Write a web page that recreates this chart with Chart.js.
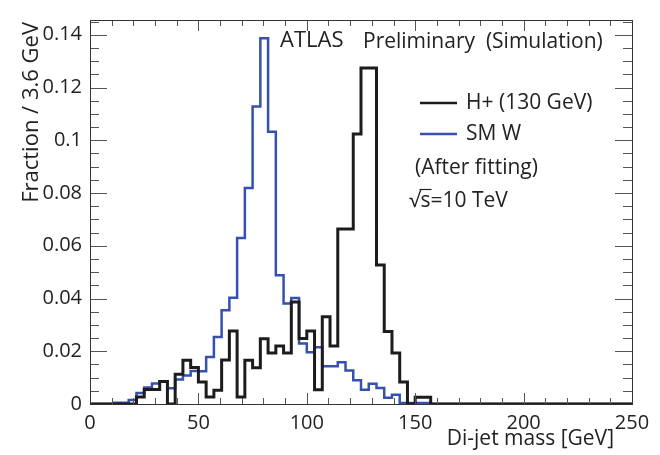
<!DOCTYPE html>
<html>
<head>
<meta charset="utf-8">
<title>Di-jet mass</title>
<script src="https://cdn.jsdelivr.net/npm/chart.js@4.4.0/dist/chart.umd.min.js"></script>
<style>
  body { margin: 0; background: #fff; }
  #chart { display: block; }
</style>
</head>
<body>
<canvas id="chart" width="660" height="455"></canvas>
<script>
// binning: 70 bins from 0 to 250 GeV (~3.6 GeV each)
const massMin = 0;
const massMax = 250;
const nBins = 70;

// fraction per bin
const hplusFraction = [
  0, 0, 0, 0, 0, 0, 0.0027, 0.0055, 0.0055, 0.0085,
  0, 0.0113, 0.0166, 0.0138, 0.0083, 0.0027, 0.0052, 0.0167, 0.0277, 0.0027,
  0.0166, 0.0137, 0.0247, 0.0193, 0.022, 0.0193, 0.0387, 0.0248, 0.0277, 0.0054,
  0.0331, 0.022, 0.0664, 0.0664, 0.1024, 0.1274, 0.1274, 0.0527, 0.0275, 0.0193,
  0.0083, 0, 0.0026, 0.0026, 0, 0, 0, 0, 0, 0,
  0, 0, 0, 0, 0, 0, 0, 0, 0, 0,
  0, 0, 0, 0, 0, 0, 0, 0, 0, 0
];
const smwFraction = [
  0, 0, 0, 0.0005, 0.0005, 0.0015, 0.0042, 0.0063, 0.0078, 0.0086,
  0.006, 0.0093, 0.0108, 0.0125, 0.0124, 0.0178, 0.0254, 0.0355, 0.0403, 0.0629,
  0.0819, 0.1128, 0.1387, 0.1032, 0.0488, 0.0381, 0.0402, 0.0229, 0.0196, 0.0215,
  0.0143, 0.0143, 0.0158, 0.0127, 0.009, 0.0054, 0.0077, 0.0061, 0.0024, 0.0035,
  0.0004, 0.0004, 0.0004, 0.0004, 0, 0, 0, 0, 0, 0,
  0, 0, 0, 0, 0, 0, 0, 0, 0, 0,
  0, 0, 0, 0, 0, 0, 0, 0, 0, 0
];

const xTicks = [0, 50, 100, 150, 200, 250];
const yTicks = [0, 0.02, 0.04, 0.06, 0.08, 0.1, 0.12, 0.14];
const xMinorStep = 10;
const yMinorStep = 0.005;
const yMax = 0.1456;

const fontFamily = "'Open Sans', sans-serif";
Chart.defaults.font.family = fontFamily;
Chart.defaults.color = '#222';

// histogram -> points at the left bin edges + closing point
function toSteps(values) {
  const w = (massMax - massMin) / nBins;
  const pts = values.map((v, i) => ({ x: massMin + i * w, y: v }));
  pts.push({ x: massMax, y: values[values.length - 1] });
  return pts;
}

// frame, inner ticks, legend and labels (ROOT style)
const rootStyle = {
  id: 'rootStyle',
  afterDraw(chart) {
    const ctx = chart.ctx;
    const a = chart.chartArea;
    const xs = chart.scales.x;
    const ys = chart.scales.y;
    ctx.save();

    // ticks
    ctx.strokeStyle = '#555';
    ctx.lineWidth = 1;
    ctx.beginPath();
    for (let v = massMin; v <= massMax + 0.001; v += xMinorStep) {
      const px = Math.round(xs.getPixelForValue(v)) + 0.5;
      const len = xTicks.includes(Math.round(v)) ? 11 : 6;
      ctx.moveTo(px, a.bottom); ctx.lineTo(px, a.bottom - len);
      ctx.moveTo(px, a.top); ctx.lineTo(px, a.top + len);
    }
    for (let i = 0; i * yMinorStep <= yMax; i++) {
      const v = i * yMinorStep;
      const py = Math.round(ys.getPixelForValue(v)) + 0.5;
      const len = i % 4 === 0 ? 17 : 9;
      ctx.moveTo(a.left, py); ctx.lineTo(a.left + len, py);
      ctx.moveTo(a.right, py); ctx.lineTo(a.right - len, py);
    }
    ctx.stroke();

    // frame
    ctx.strokeStyle = '#333';
    ctx.strokeRect(Math.round(a.left) + 0.5, Math.round(a.top) + 0.5,
      Math.round(a.right - a.left), Math.round(a.bottom - a.top));

    // legend
    ctx.textBaseline = 'middle';
    ctx.textAlign = 'left';
    ctx.fillStyle = '#222';
    ctx.font = '21px ' + fontFamily;
    chart.data.datasets.forEach((ds, i) => {
      const y = 103 + i * 31;
      ctx.strokeStyle = ds.borderColor;
      ctx.lineWidth = 2.5;
      ctx.beginPath();
      ctx.moveTo(420, y); ctx.lineTo(457, y);
      ctx.stroke();
      ctx.fillText(ds.label, 466, y);
    });

    ctx.fillText('(After fitting)', 415, 168);
    ctx.fillText('\u221As=10 TeV', 409, 201);
    // overline of the square root
    const rootW = ctx.measureText('\u221A').width;
    const sW = ctx.measureText('s').width;
    ctx.strokeStyle = '#222';
    ctx.lineWidth = 1.2;
    ctx.beginPath();
    ctx.moveTo(409 + rootW - 1, 189.5); ctx.lineTo(409 + rootW + sW + 1, 189.5);
    ctx.stroke();

    ctx.font = '22px ' + fontFamily;
    ctx.fillText('ATLAS', 280, 41);
    ctx.font = '21px ' + fontFamily;
    ctx.fillText('Preliminary  (Simulation)', 363, 42);

    // axis titles
    ctx.textAlign = 'right';
    ctx.fillText('Di-jet mass [GeV]', 614, 439);
    ctx.font = '22px ' + fontFamily;
    ctx.translate(32, 22);
    ctx.rotate(-Math.PI / 2);
    ctx.fillText('Fraction / 3.6 GeV', 0, 0);
    ctx.restore();
  }
};

new Chart(document.getElementById('chart'), {
  type: 'line',
  data: {
    datasets: [
      {
        label: 'H+ (130 GeV)',
        data: toSteps(hplusFraction),
        borderColor: '#1c1c1c',
        borderWidth: 3,
        stepped: true
      },
      {
        label: 'SM W',
        data: toSteps(smwFraction),
        borderColor: '#3551ad',
        borderWidth: 2.5,
        stepped: true
      }
    ]
  },
  options: {
    responsive: false,
    animation: false,
    layout: { padding: { top: 13, right: 28, left: 0, bottom: 0 } },
    elements: { point: { radius: 0 }, line: { tension: 0, fill: false } },
    plugins: { legend: { display: false }, tooltip: { enabled: false } },
    scales: {
      x: {
        type: 'linear',
        min: massMin,
        max: massMax,
        grid: { display: false, drawTicks: false },
        border: { display: false },
        afterBuildTicks: (s) => { s.ticks = xTicks.map(value => ({ value })); },
        afterFit: (s) => { s.height = 51; },
        ticks: { font: { size: 20 }, padding: 7, maxRotation: 0, callback: (v) => String(v) }
      },
      y: {
        min: 0,
        max: yMax,
        grid: { display: false, drawTicks: false },
        border: { display: false },
        afterBuildTicks: (s) => { s.ticks = yTicks.map(value => ({ value })); },
        afterFit: (s) => { s.width = 90; },
        ticks: { font: { size: 20 }, padding: 8, callback: (v) => String(v) }
      }
    }
  },
  plugins: [rootStyle]
});
</script>
</body>
</html>
